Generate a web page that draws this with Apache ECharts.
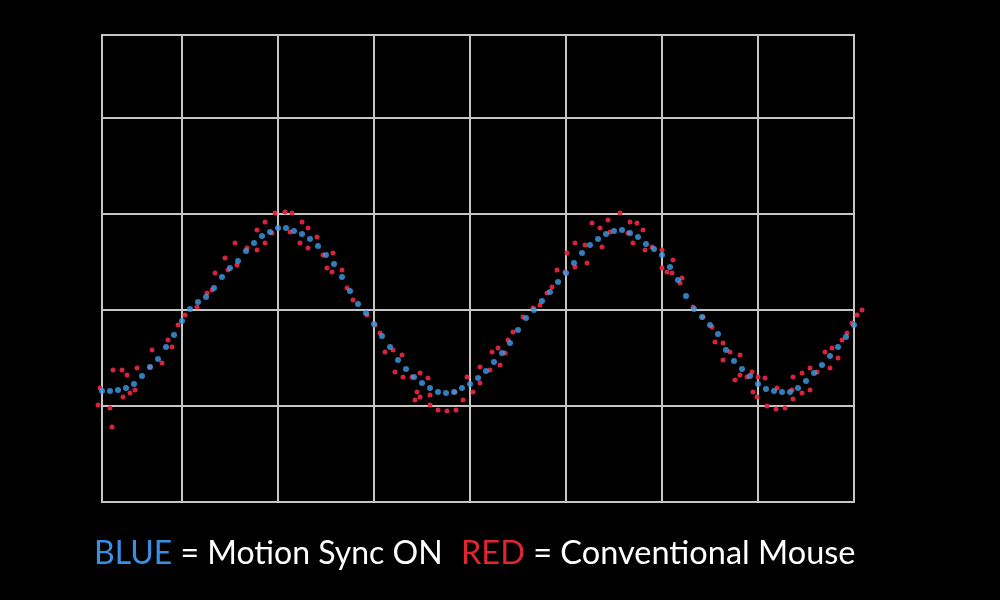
<!DOCTYPE html>
<html>
<head>
<meta charset="utf-8">
<script src="https://cdn.jsdelivr.net/npm/echarts@6/dist/echarts.min.js"></script>
<style>html,body{margin:0;padding:0;background:#000;}#c{width:1000px;height:600px;}</style>
</head>
<body>
<div id="c"></div>
<script>
// time offset (x) and position (y) samples, arbitrary units
const blueX = [0,8,16,24,32,40,48,56,64,72,80,88,96,104,112,120,128,136,144,152,160,168,176,184,192,200,208,216,224,232,240,248,256,264,272,280,288,296,304,312,320,328,336,344,352,360,368,376,384,392,400,408,416,424,432,440,448,456,464,472,480,488,496,504,512,520,528,536,544,552,560,568,576,584,592,600,608,616,624,632,640,648,656,664,672,680,688,696,704,712,720,728,736,744,752];
const blueY = [111,111,112,114,118,126,135,143,155,167,181,193,200,205,214,225,234,241,251,259,266,270,274,274,271,268,263,256,247,238,225,211,198,189,178,166,155,142,133,125,119,114,110,109,110,114,118,124,131,140,149,159,172,184,192,201,210,220,229,239,249,257,263,268,271,272,269,265,258,253,247,235,222,206,193,185,177,168,152,141,133,126,118,113,111,110,110,114,121,129,137,146,155,165,177];
const redX = [-2,-4,8,10,11,20,25,21,28,33,35,50,48,60,66,70,76,83,95,105,110,113,123,126,133,135,145,155,155,163,163,170,173,183,190,188,200,198,206,206,215,221,231,225,230,240,245,251,265,273,278,283,291,300,293,301,310,318,326,315,318,313,328,328,336,345,354,353,361,365,371,378,378,388,390,396,398,403,406,411,421,431,438,445,450,455,463,465,473,473,483,485,490,498,500,506,508,518,528,535,526,531,541,543,550,560,565,560,571,570,578,580,591,601,610,613,621,621,628,638,633,638,645,650,656,663,651,655,665,674,683,675,690,691,700,691,700,708,708,715,723,728,730,736,740,745,750,755,760];
const redY = [114,97,94,75,132,132,127,105,109,112,134,152,135,139,162,155,177,187,195,209,212,229,244,232,259,237,254,272,252,280,259,269,289,290,289,270,280,259,274,254,265,247,249,234,230,232,214,202,187,177,169,150,152,147,130,125,125,129,124,110,105,102,107,97,92,91,92,110,102,125,110,135,119,132,150,154,137,149,162,170,185,194,197,209,215,232,230,249,259,235,257,239,279,274,255,282,270,289,280,279,269,259,272,252,255,234,230,252,242,229,219,224,195,185,175,160,159,142,150,147,122,127,125,130,125,124,110,105,96,93,94,114,112,125,129,103,109,112,134,130,150,134,154,144,162,169,179,187,192];
const yTicks = {min: 0, max: 467, step: 96};
const xTicks = {min: 0, max: 752, step: 96};

const blueData = blueX.map((x, i) => [x, blueY[i]]);
const redData = redX.map((x, i) => [x, redY[i]]);

const gridLine = {show: true, lineStyle: {color: '#c4c4c4', width: 2}};
const chart = echarts.init(document.getElementById('c'));
chart.setOption({
  backgroundColor: '#000',
  animation: false,
  grid: {left: 102, top: 35, width: 752, height: 467, show: true, borderColor: '#c4c4c4', borderWidth: 2, backgroundColor: 'transparent'},
  xAxis: [
    {type: 'value', min: xTicks.min, max: xTicks.max, axisLine: {show: false}, axisTick: {show: false}, axisLabel: {show: false}, splitLine: {show: false}},
    {type: 'value', inverse: true, position: 'bottom', min: xTicks.min, max: xTicks.max, interval: xTicks.step, axisLine: {show: false}, axisTick: {show: false}, axisLabel: {show: false}, splitLine: gridLine}
  ],
  yAxis: {type: 'value', min: yTicks.min, max: yTicks.max, interval: yTicks.step, axisLine: {show: false}, axisTick: {show: false}, axisLabel: {show: false}, splitLine: gridLine},
  title: {
    left: 94, top: 537, padding: 0,
    text: '{b|BLUE}{w| = Motion Sync ON  }{r|RED}{v| = Conventional Mouse}',
    textStyle: {
      rich: {
        b: {color: '#3b8fe2', fontSize: 32, fontFamily: 'Lato', fontWeight: 400},
        r: {color: '#e0262e', fontSize: 32.5, fontFamily: 'Lato', fontWeight: 400, padding: [0, 0, 0, 2]},
        w: {color: '#ffffff', fontSize: 32, fontFamily: 'Lato', fontWeight: 400},
        v: {color: '#ffffff', fontSize: 32.5, fontFamily: 'Lato', fontWeight: 400}
      }
    }
  },
  series: [
    {type: 'scatter', xAxisIndex: 0, data: redData, symbolSize: 5, clip: false, itemStyle: {color: '#e3263f', opacity: 0.95}, silent: true},
    {type: 'scatter', xAxisIndex: 0, data: blueData, symbolSize: 6, clip: false, itemStyle: {color: '#3d9de8'}, silent: true}
  ]
});
</script>
</body>
</html>
